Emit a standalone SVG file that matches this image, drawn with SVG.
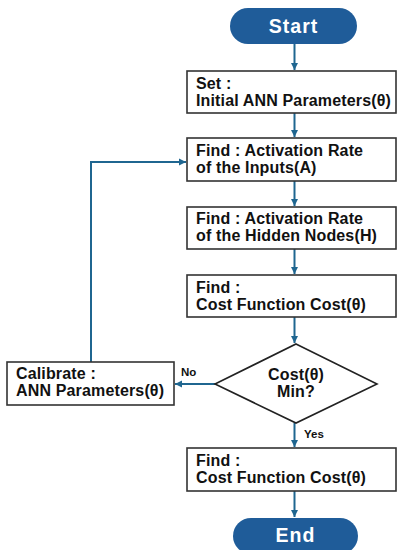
<svg xmlns="http://www.w3.org/2000/svg" width="398" height="550" viewBox="0 0 398 550">
<defs>
<marker id="ah" markerWidth="8" markerHeight="8" refX="7" refY="4" orient="auto" markerUnits="userSpaceOnUse">
<path d="M0,0.5 L7,4 L0,7.5 Z" fill="#1f6690"/>
</marker>
<style>
.box{fill:#fff;stroke:#333;stroke-width:1.6}
.pill{fill:#1f5c99}
.t{font-family:"Liberation Sans",Arial,sans-serif;font-weight:bold;font-size:16px;fill:#111;letter-spacing:0.15px}
.pt{font-family:"Liberation Sans",Arial,sans-serif;font-weight:bold;font-size:19.5px;fill:#fff;letter-spacing:1px}
.lbl{font-family:"Liberation Sans",Arial,sans-serif;font-weight:bold;font-size:11.5px;fill:#111}
.c{fill:none;stroke:#1f6690;stroke-width:2}
</style>
</defs>
<g id="connectors">
<line class="c" x1="294.5" y1="44" x2="294.5" y2="70" marker-end="url(#ah)"/>
<line class="c" x1="294.5" y1="113" x2="294.5" y2="137" marker-end="url(#ah)"/>
<line class="c" x1="294.5" y1="181" x2="294.5" y2="206" marker-end="url(#ah)"/>
<line class="c" x1="294.5" y1="249" x2="294.5" y2="274" marker-end="url(#ah)"/>
<line class="c" x1="294.5" y1="317" x2="294.5" y2="343" marker-end="url(#ah)"/>
<line class="c" x1="294.5" y1="423" x2="294.5" y2="447" marker-end="url(#ah)"/>
<line class="c" x1="294.5" y1="491" x2="294.5" y2="517" marker-end="url(#ah)"/>
<line class="c" x1="215" y1="384" x2="175" y2="384" marker-end="url(#ah)"/>
<polyline class="c" points="91,362 91,162 186,162" marker-end="url(#ah)"/>
<text class="lbl" x="181" y="376">No</text>
<text class="lbl" x="304" y="438">Yes</text>
</g>
<g id="start">
<rect class="pill" x="230" y="8" width="127" height="36" rx="18"/>
<text class="pt" x="293.5" y="33" text-anchor="middle">Start</text>
</g>
<g id="set">
<rect class="box" x="187" y="71" width="209" height="42"/>
<text class="t" x="196" y="89">Set :</text>
<text class="t" x="196" y="106">Initial ANN Parameters(θ)</text>
</g>
<g id="find1">
<rect class="box" x="187" y="138" width="209" height="43"/>
<text class="t" x="196" y="156">Find : Activation Rate</text>
<text class="t" x="196" y="173">of the Inputs(A)</text>
</g>
<g id="find2">
<rect class="box" x="187" y="207" width="209" height="42"/>
<text class="t" x="196" y="224">Find : Activation Rate</text>
<text class="t" x="196" y="241">of the Hidden Nodes(H)</text>
</g>
<g id="find3">
<rect class="box" x="187" y="275" width="209" height="42"/>
<text class="t" x="196" y="293">Find :</text>
<text class="t" x="196" y="310">Cost Function Cost(θ)</text>
</g>
<g id="decision">
<polygon points="296,344 377,384 296,423 215,384" fill="#fff" stroke="#222" stroke-width="1.6"/>
<text class="t" x="296" y="380" text-anchor="middle">Cost(θ)</text>
<text class="t" x="296" y="397" text-anchor="middle">Min?</text>
</g>
<g id="calibrate">
<rect class="box" x="7" y="362" width="167" height="43"/>
<text class="t" x="16" y="379">Calibrate :</text>
<text class="t" x="16" y="396">ANN Parameters(θ)</text>
</g>
<g id="find4">
<rect class="box" x="187" y="448" width="209" height="43"/>
<text class="t" x="196" y="466">Find :</text>
<text class="t" x="196" y="483">Cost Function Cost(θ)</text>
</g>
<g id="end">
<rect class="pill" x="233" y="518" width="125" height="36" rx="18"/>
<text class="pt" x="295.5" y="542" text-anchor="middle">End</text>
</g>
</svg>
